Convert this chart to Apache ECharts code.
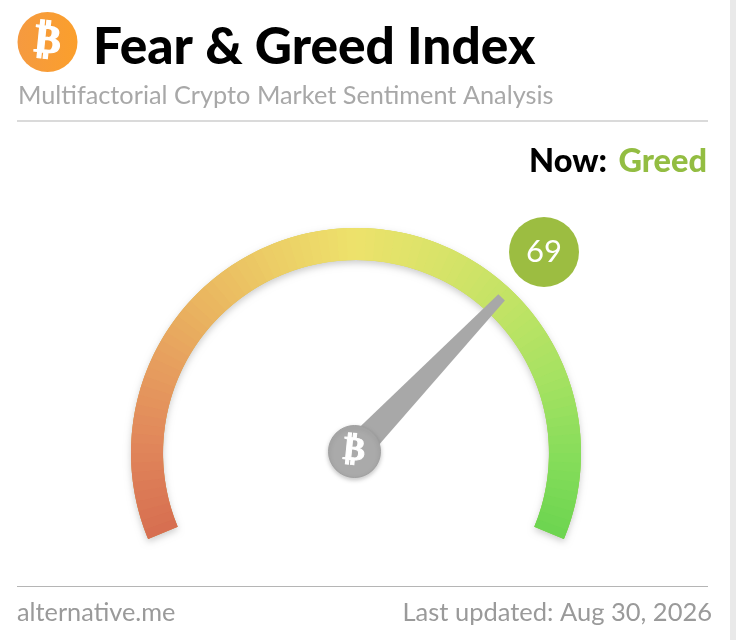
<!DOCTYPE html>
<html>
<head>
<meta charset="utf-8">
<style>html,body{margin:0;padding:0;background:#fff}#c{width:736px;height:640px}</style>
<script src="https://cdn.jsdelivr.net/npm/echarts@6/dist/echarts.min.js"></script>
</head>
<body>
<div id="c"></div>
<script>
const indexValue = 69;
const scaleMin = 0;
const scaleMax = 100;
const titleText = 'Fear & Greed Index';
const subtitleText = 'Multifactorial Crypto Market Sentiment Analysis';
const nowLabel = 'Now:';
const classification = 'Greed';
const sourceText = 'alternative.me';
const updatedText = 'Last updated: Aug 30, 2026';
const arcColors = ['#d66e50','#e0845a','#e69c5e','#eab660','#ecce66','#ede26b','#d9e369','#c2e365','#a8e262','#88dd5b','#6cd550'];

function hex(c){return [1,3,5].map(i=>parseInt(c.substr(i,2),16));}
function blendStops(colors,n){
  const out=[];
  for(let i=1;i<=n;i++){
    const t=(i-0.5)/n*(colors.length-1),k=Math.min(Math.floor(t),colors.length-2),f=t-k;
    const a=hex(colors[k]),b=hex(colors[k+1]);
    out.push([i/n,'rgb('+a.map((v,j)=>Math.round(v+(b[j]-v)*f)).join(',')+')']);
  }
  return out;
}
const font='Lato, "Noto Sans", sans-serif';
const hidden={axisTick:{show:false},splitLine:{show:false},axisLabel:{show:false},title:{show:false}};
const arcBase={type:'gauge',center:[356,453],radius:225,startAngle:202.5,endAngle:-22.5,min:scaleMin,max:scaleMax,silent:true,animation:false,...hidden};
const arcOnly={pointer:{show:false},detail:{show:false},data:[{value:indexValue}]};

const chart=echarts.init(document.getElementById('c'),null,{renderer:'canvas'});
chart.setOption({
  animation:false,
  backgroundColor:'#ffffff',
  graphic:{elements:[
    {type:'rect',shape:{x:730,y:0,width:6,height:640},style:{fill:'#e9e9e9'},silent:true},
    {type:'circle',shape:{cx:47.5,cy:42,r:30},style:{fill:new echarts.graphic.LinearGradient(0,0,1,0,[{offset:0,color:'#f59a40'},{offset:1,color:'#fb9f2c'}])},silent:true},
    {type:'text',x:47.5,y:42,rotation:-0.1,style:{text:'₿',x:0,y:0,align:'center',verticalAlign:'middle',fill:'#fff',stroke:'#fff',lineWidth:1.2,font:'bold 40px "DejaVu Sans"'},silent:true},
    {type:'text',style:{x:93,y:47,text:titleText,verticalAlign:'middle',fill:'#000',font:'900 51.4px '+font},silent:true},
    {type:'text',style:{x:18,y:95.5,text:subtitleText,verticalAlign:'middle',fill:'#a8a8a8',font:'400 25.3px '+font},silent:true},
    {type:'rect',shape:{x:17,y:120.5,width:691,height:1},style:{fill:'#b5b5b5'},silent:true},
    {type:'text',style:{x:607,y:161.5,text:nowLabel,align:'right',verticalAlign:'middle',fill:'#000',font:'900 32.5px '+font},silent:true},
    {type:'text',style:{x:707,y:161.5,text:classification,align:'right',verticalAlign:'middle',fill:'#93bd42',font:'900 32.5px '+font},silent:true},
    {type:'rect',shape:{x:17,y:586,width:691,height:1},style:{fill:'#b5b5b5'},silent:true},
    {type:'text',style:{x:17,y:612.5,text:sourceText,verticalAlign:'middle',fill:'#9a9a9a',font:'400 25.3px '+font},silent:true},
    {type:'text',style:{x:712,y:612.5,text:updatedText,align:'right',verticalAlign:'middle',fill:'#9a9a9a',font:'400 25.5px '+font},silent:true},
    {type:'text',x:354,y:451,z:100,rotation:-0.1,style:{text:'₿',x:0,y:0,align:'center',verticalAlign:'middle',fill:'#fff',stroke:'#fff',lineWidth:1,font:'bold 33px "DejaVu Sans"'},silent:true}
  ]},
  series:[
    {...arcBase,z:1,axisLine:{lineStyle:{width:32,color:[[1,'#c8cf62']],shadowBlur:7,shadowColor:'rgba(0,0,0,0.2)',shadowOffsetY:3}},...arcOnly},
    {...arcBase,z:2,axisLine:{lineStyle:{width:32,color:blendStops(arcColors,37)}},...arcOnly},
    {...arcBase,z:3,axisLine:{lineStyle:{width:32,color:blendStops(arcColors,90)}},...arcOnly},
    {...arcBase,z:4,center:[354.5,451.5],startAngle:199.5,axisLine:{show:false},
      pointer:{show:true,icon:'path://M-4.5,-100 L4.5,-100 L14,0 L-14,0 Z',length:213,width:28,itemStyle:{color:'#a8a8a8'}},
      anchor:{show:true,showAbove:true,size:52,itemStyle:{color:'#aaaaaa',borderColor:'#a0a0a0',borderWidth:1,shadowBlur:4,shadowColor:'rgba(0,0,0,0.22)',shadowOffsetY:2}},
      detail:{show:true,valueAnimation:false,offsetCenter:[189.5,-199.5],width:70,height:70,lineHeight:70,padding:0,borderRadius:35,backgroundColor:'#9cbd41',color:'#fff',fontFamily:font,fontWeight:400,fontSize:31,formatter:'{value}'},
      data:[{value:indexValue}]}
  ]
});
</script>
</body>
</html>
